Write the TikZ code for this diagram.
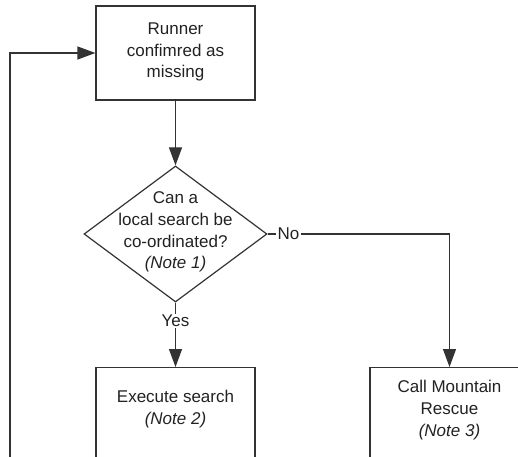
\documentclass[tikz,border=0pt]{standalone}
\usepackage{fontspec}
\setmainfont{Liberation Sans}
\usetikzlibrary{shapes.geometric,arrows.meta}
\definecolor{ink}{HTML}{333333}
\definecolor{tx}{HTML}{222222}
\tikzset{
  box/.style={draw=ink, line width=1.2bp, rectangle, minimum width=159bp, inner sep=0pt},
  dia/.style={draw=ink, line width=1.2bp, diamond, minimum width=183bp, minimum height=136bp, inner sep=0pt},
  txt/.style={text=tx, align=center, font=\fontsize{17bp}{21.7bp}\selectfont, inner sep=0pt},
  conn/.style={draw=ink, line width=1.2bp, -{Triangle[length=18bp,width=13bp]}},
  lbl/.style={fill=white, text=tx, font=\fontsize{17bp}{19bp}\selectfont, inner sep=1.2bp}
}
\begin{document}
\begin{tikzpicture}[x=1bp,y=-1bp]
\path[use as bounding box, clip] (0,0) rectangle (518,457);
\fill[white] (0,0) rectangle (518,457);
% nodes
\node[box, minimum height=94bp] (rc) at (175.5,53) {};
\node[txt] (rcT) at (175.5,52) {Runner\\confimred as\\missing};
\node[dia] (d) at (175.5,234) {};
\node[txt] (dT) at (175.5,232) {Can a\\local search be\\co-ordinated?\\\textit{(Note 1)}};
\node[box, minimum height=130bp, anchor=north] (ex) at (175.5,367) {};
\node[txt] (exT) at (175.5,409) {Execute search\\\textit{(Note 2)}};
\node[box, minimum height=130bp, anchor=north] (mr) at (449.5,367) {};
\node[txt] (mrT) at (449.5,410) {Call Mountain\\Rescue\\\textit{(Note 3)}};
\coordinate (lb) at (10,470);
% connectors
\draw[conn] (rc.south) -- (d.north);
\draw[conn] (d.south) -- node[lbl, pos=0.28] (yes) {Yes} (ex.north);
\draw[conn] (d.east) -- node[lbl, pos=0.115] (no) {No} (mr.north |- d.east) -- (mr.north);
\draw[conn] (lb) |- (rc.west);
\end{tikzpicture}
\end{document}
